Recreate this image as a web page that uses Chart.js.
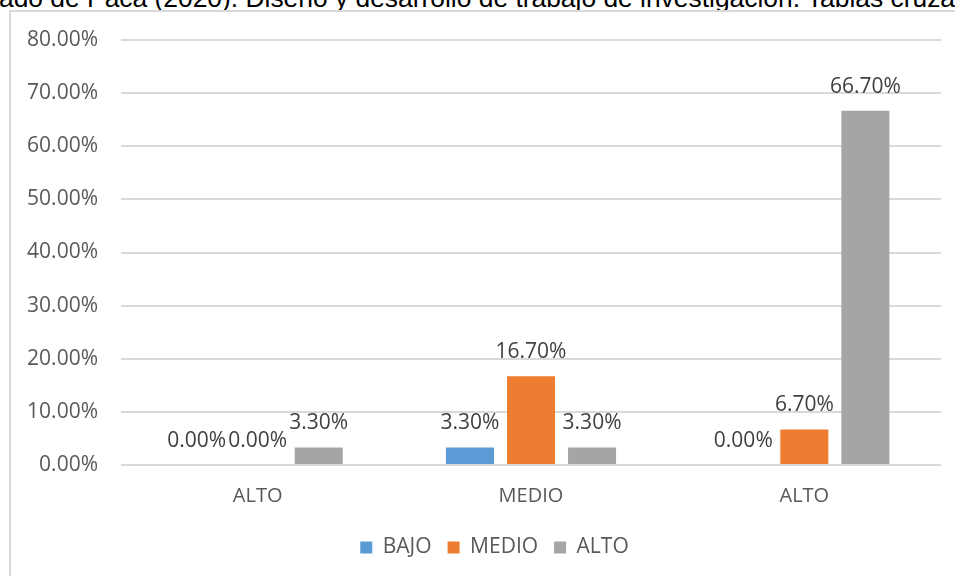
<!DOCTYPE html>
<html lang="es">
<head>
  <meta charset="UTF-8">
  <title>Tablas cruzadas</title>
  <script src="https://cdn.jsdelivr.net/npm/chart.js"></script>
  <style>
      html, body {
          margin: 0;
          padding: 0;
          width: 955px;
          height: 576px;
          overflow: hidden;
          background: #ffffff;
      }
      .fuente {
          position: absolute;
          left: -1px;
          top: -15px;
          width: 960px;
          font-family: "Liberation Sans", Arial, sans-serif;
          font-size: 26.4px;
          line-height: 26px;
          color: #000000;
          white-space: nowrap;
          overflow: hidden;
      }
      .marco {
          position: absolute;
          left: 9px;
          top: 10px;
          width: 950px;
          height: 570px;
          border-left: 2px solid #d9d9d9;
          border-top: 2px solid #d9d9d9;
      }
      .chart-box {
          position: absolute;
          left: 0;
          top: 0;
          width: 955px;
          height: 576px;
      }
  </style>
</head>
<body>
  <div class="fuente">ado de Paca (2020). Diseño y desarrollo de trabajo de investigación. Tablas cruzadas</div>
  <div class="marco"></div>
  <div class="chart-box">
    <canvas id="grafico"></canvas>
  </div>
<script>
    // categorias del eje X
    const categorias = ["ALTO", "MEDIO", "ALTO"];

    // porcentajes por serie
    const bajo  = [0.0, 3.3, 0.0];
    const medio = [0.0, 16.7, 6.7];
    const alto  = [3.3, 3.3, 66.7];

    // eje Y
    const yMin = 0;
    const yMax = 80;
    const yPaso = 10;

    const fuenteTexto = '"Open Sans", "Noto Sans", sans-serif';

    // etiquetas de datos encima de cada barra
    const etiquetasDatos = {
        id: 'etiquetasDatos',
        afterDatasetsDraw(chart) {
            const ctx = chart.ctx;
            ctx.save();
            ctx.font = '21px ' + fuenteTexto;
            ctx.fillStyle = '#404040';
            ctx.textAlign = 'center';
            ctx.textBaseline = 'alphabetic';
            chart.data.datasets.forEach((ds, i) => {
                const meta = chart.getDatasetMeta(i);
                meta.data.forEach((bar, j) => {
                    ctx.fillText(ds.data[j].toFixed(2) + '%', bar.x, bar.y - 18);
                });
            });
            ctx.restore();
        }
    };

    // la leyenda va un poco a la derecha, centrada en el marco
    const moverLeyenda = {
        id: 'moverLeyenda',
        afterLayout(chart) {
            chart.legend.left += 24;
            chart.legend.right += 24;
        }
    };

    const ctx = document.getElementById('grafico').getContext('2d');
    const chart = new Chart(ctx, {
        type: 'bar',
        data: {
            labels: categorias,
            datasets: [
                { label: 'BAJO',  data: bajo,  backgroundColor: '#5B9BD5' },
                { label: 'MEDIO', data: medio, backgroundColor: '#ED7D31' },
                { label: 'ALTO',  data: alto,  backgroundColor: '#A5A5A5' }
            ]
        },
        options: {
            responsive: true,
            maintainAspectRatio: false,
            animation: false,
            categoryPercentage: 0.67,
            barPercentage: 0.787,
            layout: {
                padding: { top: 40, right: 14, left: 0, bottom: 8 }
            },
            plugins: {
                tooltip: { enabled: false },
                legend: {
                    position: 'bottom',
                    labels: {
                        font: { family: fuenteTexto, size: 21 },
                        color: '#595959',
                        boxWidth: 12,
                        boxHeight: 12,
                        padding: 16
                    }
                }
            },
            scales: {
                x: {
                    grid: { display: false },
                    border: { display: false },
                    ticks: {
                        font: { family: fuenteTexto, size: 20 },
                        color: '#595959',
                        padding: 11
                    },
                    afterFit(scale) { scale.height = 56; }
                },
                y: {
                    min: yMin,
                    max: yMax,
                    grid: { color: '#d9d9d9', lineWidth: 2, drawTicks: false },
                    border: { display: false },
                    ticks: {
                        stepSize: yPaso,
                        font: { family: fuenteTexto, size: 21 },
                        color: '#595959',
                        padding: 23,
                        callback: (v) => v.toFixed(2) + '%'
                    },
                    afterFit(scale) { scale.width = 121; }
                }
            }
        },
        plugins: [etiquetasDatos, moverLeyenda]
    });
</script>
</body>
</html>
